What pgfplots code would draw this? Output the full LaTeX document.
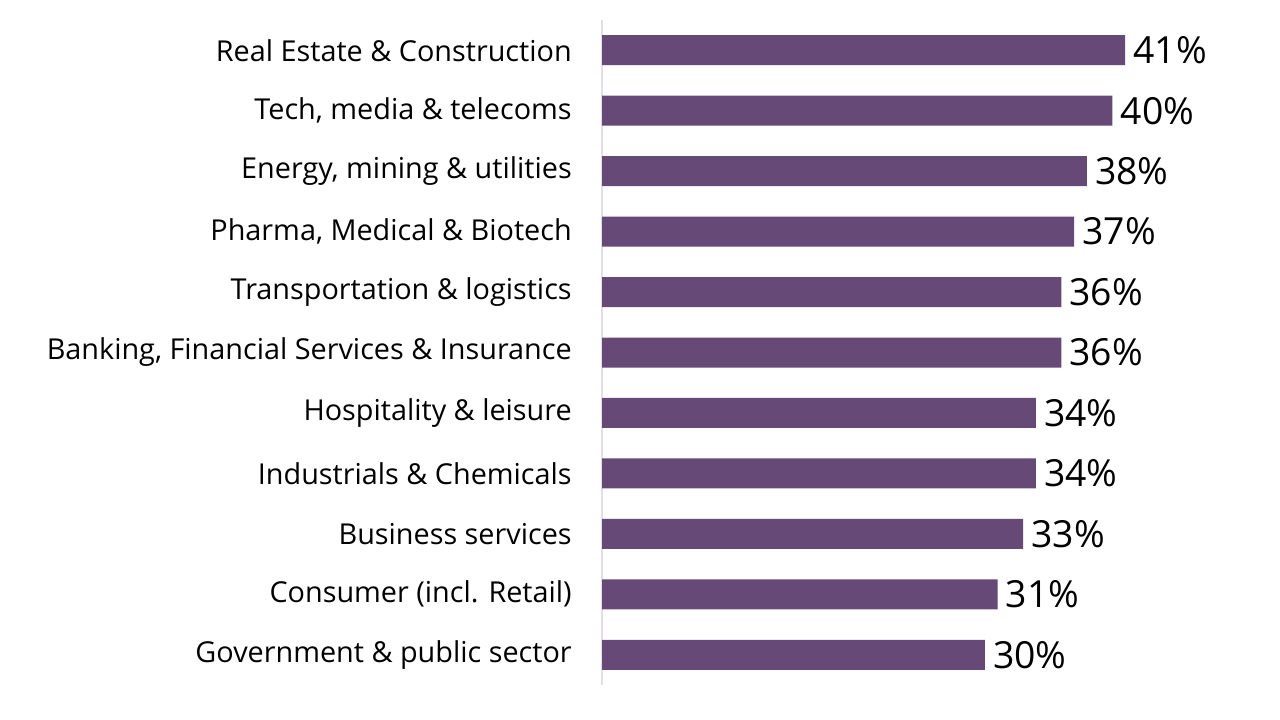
\documentclass[border=0pt]{standalone}
\usepackage{pgfplots}
\pgfplotsset{compat=1.18}
\usepackage{fontspec}
\setmainfont{Open Sans}
\definecolor{barc}{HTML}{664976}
\definecolor{axc}{HTML}{E2DDE8}
\begin{document}
\begin{tikzpicture}[x=1pt,y=1pt]
\useasboundingbox (0,0) rectangle (960,540);
\begin{axis}[
  at={(451.5pt,26.25pt)}, anchor=south west,
  scale only axis, width=478.5pt, height=498.75pt,
  xmin=0, xmax=50, ymin=-0.5, ymax=10.5,
  y dir=reverse,
  xbar, bar width=22.5pt,
  axis x line=none,
  axis y line*=left,
  y axis line style={draw=axc, line width=0.8pt, -},
  ytick={0,...,10}, major tick length=0pt,
  yticklabels={Real Estate \& Construction, {Tech, media \& telecoms}, {Energy, mining \& utilities}, {Pharma, Medical \& Biotech}, Transportation \& logistics, {Banking, Financial Services \& Insurance}, Hospitality \& leisure, Industrials \& Chemicals, Business services, Consumer (incl. Retail), Government \& public sector},
  yticklabel style={anchor=east, inner sep=0pt, xshift=-22.5pt, font=\fontsize{21.6}{26}\selectfont},
  /pgf/number format/assume math mode=true,
  nodes near coords={\pgfmathprintnumber{\pgfplotspointmeta}\%},
  point meta=x,
  nodes near coords style={anchor=west, inner sep=0pt, xshift=6pt, font=\fontsize{28}{32}\selectfont, text=black},
  clip=false,
]
\addplot[fill=barc, draw=none] coordinates {
(41,0) (40,1) (38,2) (37,3) (36,4) (36,5) (34,6) (34,7) (33,8) (31,9) (30,10)
};
\end{axis}
\end{tikzpicture}
\end{document}
